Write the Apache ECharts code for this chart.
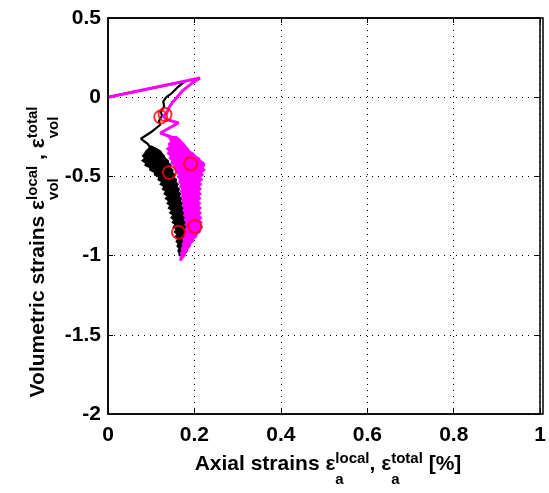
<!DOCTYPE html>
<html><head><meta charset="utf-8">
<script src="https://cdn.jsdelivr.net/npm/echarts/dist/echarts.min.js"></script>
<style>html,body{margin:0;padding:0;background:#fff}#c{width:549px;height:493px}</style>
</head><body><div id="c"></div>
<script>
// ---- data ----
const xTickValues = [0, 0.2, 0.4, 0.6, 0.8, 1];
const xTickLabels = ['0', '0.2', '0.4', '0.6', '0.8', '1'];
const yTickValues = [-2, -1.5, -1, -0.5, 0, 0.5];
const yTickLabels = ['-2', '-1.5', '-1', '-0.5', '0', '0.5'];

// local (black): path [axial %, volumetric %] before the noisy part
const localPath = [
  [0,0],[0.178,0.100],[0.160,0.060],[0.148,0.026],[0.135,0.0],[0.128,-0.026],[0.130,-0.060],
  [0.122,-0.090],[0.125,-0.117],[0.118,-0.150],[0.121,-0.174],[0.100,-0.220],[0.076,-0.262],
  [0.082,-0.275],[0.092,-0.295],[0.098,-0.320]
];
// local (black): noisy band [volumetric %, axial min %, axial max %]
const localBand = [
  [-0.310,0.097,0.101],[-0.325,0.094,0.112],[-0.340,0.088,0.121],[-0.355,0.085,0.125],
  [-0.370,0.080,0.130],[-0.385,0.085,0.132],[-0.400,0.079,0.139],[-0.415,0.087,0.140],
  [-0.430,0.086,0.146],[-0.445,0.097,0.143],[-0.460,0.097,0.150],[-0.475,0.108,0.149],
  [-0.490,0.108,0.155],[-0.505,0.118,0.152],[-0.520,0.116,0.158],[-0.535,0.125,0.157],
  [-0.550,0.121,0.162],[-0.565,0.130,0.159],[-0.580,0.126,0.165],[-0.595,0.134,0.162],
  [-0.610,0.130,0.168],[-0.625,0.138,0.164],[-0.640,0.133,0.170],[-0.655,0.141,0.166],
  [-0.670,0.137,0.172],[-0.685,0.144,0.168],[-0.700,0.140,0.174],[-0.715,0.148,0.170],
  [-0.730,0.143,0.176],[-0.745,0.151,0.172],[-0.760,0.146,0.177],[-0.775,0.153,0.173],
  [-0.790,0.149,0.179],[-0.805,0.156,0.175],[-0.820,0.151,0.180],[-0.835,0.158,0.176],
  [-0.850,0.154,0.180],[-0.865,0.160,0.175],[-0.880,0.156,0.177],[-0.895,0.162,0.173],
  [-0.910,0.158,0.175],[-0.925,0.163,0.171],[-0.940,0.160,0.172],[-0.955,0.165,0.169],
  [-0.970,0.162,0.170],[-0.985,0.165,0.168],[-1.000,0.165,0.167]
];
// total (magenta): path before the noisy part
const totalPath = [
  [0,0],[0.213,0.121],[0.195,0.090],[0.171,0.037],[0.160,0.0],[0.148,-0.037],[0.140,-0.070],
  [0.136,-0.100],[0.128,-0.120],[0.135,-0.140],[0.163,-0.163],[0.145,-0.190],[0.121,-0.226],
  [0.140,-0.245],[0.150,-0.255]
];
// total (magenta): noisy band
const totalBand = [
  [-0.250,0.140,0.158],[-0.265,0.143,0.166],[-0.280,0.146,0.170],[-0.295,0.140,0.176],
  [-0.310,0.143,0.180],[-0.325,0.136,0.185],[-0.340,0.142,0.189],[-0.355,0.138,0.197],
  [-0.370,0.145,0.202],[-0.385,0.142,0.211],[-0.400,0.149,0.214],[-0.415,0.146,0.222],
  [-0.430,0.153,0.223],[-0.445,0.153,0.219],[-0.460,0.159,0.224],[-0.475,0.158,0.216],
  [-0.490,0.164,0.220],[-0.505,0.161,0.213],[-0.520,0.167,0.218],[-0.535,0.164,0.211],
  [-0.550,0.169,0.216],[-0.565,0.166,0.210],[-0.580,0.171,0.215],[-0.595,0.168,0.209],
  [-0.610,0.173,0.215],[-0.625,0.170,0.209],[-0.640,0.174,0.214],[-0.655,0.171,0.208],
  [-0.670,0.176,0.214],[-0.685,0.173,0.209],[-0.700,0.177,0.215],[-0.715,0.174,0.209],
  [-0.730,0.179,0.215],[-0.745,0.176,0.210],[-0.760,0.180,0.216],[-0.775,0.177,0.211],
  [-0.790,0.182,0.217],[-0.805,0.179,0.213],[-0.820,0.183,0.218],[-0.835,0.180,0.212],
  [-0.850,0.182,0.213],[-0.865,0.177,0.206],[-0.880,0.179,0.205],[-0.895,0.174,0.198],
  [-0.910,0.176,0.197],[-0.925,0.172,0.191],[-0.940,0.174,0.190],[-0.955,0.170,0.185],
  [-0.970,0.172,0.184],[-0.985,0.168,0.179],[-1.000,0.170,0.178],[-1.015,0.167,0.173],
  [-1.030,0.167,0.169]
];
// red circle markers
const markerPoints = [
  [0.122,-0.125],[0.132,-0.110],[0.142,-0.475],[0.191,-0.420],[0.163,-0.853],[0.201,-0.816]
];

// ---- chart ----
const FONT = '"Liberation Sans", Arial, Helvetica, sans-serif';
const chart = echarts.init(document.getElementById('c'), null, {renderer: 'canvas'});

const GRID = {left: 108, right: 6, top: 18, bottom: 79};
const W = 549, H = 493;

function axisCommon() {
  return {
    axisLine: {show: true, onZero: false, lineStyle: {color: '#000', width: 1.5}},
    axisTick: {show: true, inside: true, length: 5, lineStyle: {color: '#000'}},
    splitLine: {show: false}
  };
}

const mctx = document.createElement('canvas').getContext('2d');
function tw(text, size) { mctx.font = 'bold ' + size + 'px ' + FONT; return mctx.measureText(text).width; }

const MAIN = 21, SUP = 15;
function buildTitle(pieces, supOff, subOff) {
  let items = [], x = 0;
  pieces.forEach(p => {
    if (p.t !== undefined) {
      items.push({text: p.t, x: x, y: 0, size: MAIN});
      x += tw(p.t, MAIN);
    } else {
      items.push({text: p.sup, x: x, y: supOff, size: SUP});
      items.push({text: p.sub, x: x, y: subOff, size: SUP});
      x += Math.max(tw(p.sup, SUP), tw(p.sub, SUP));
    }
  });
  const total = x;
  return items.map(it => ({
    type: 'text',
    style: {
      text: it.text, x: it.x - total / 2, y: it.y - it.size * 0.33,
      font: 'bold ' + it.size + 'px ' + FONT, fill: '#000',
      align: 'left', verticalAlign: 'middle'
    }
  }));
}

const xTitle = buildTitle([
  {t: 'Axial strains ε'}, {sup: 'local', sub: 'a'}, {t: ', ε'}, {sup: 'total', sub: 'a'}, {t: ' [%]'}
], -7, 14);
const yTitle = buildTitle([
  {t: 'Volumetric strains ε'}, {sup: 'local', sub: 'vol'}, {t: ' , ε'}, {sup: 'total', sub: 'vol'}
], -7, 14);

function bandSeries(band, color, z) {
  return {
    type: 'custom', coordinateSystem: 'cartesian2d', z: z, silent: true,
    data: band.map(b => [b[1], b[0], b[2]]),
    encode: {x: [0, 2], y: 1},
    renderItem: function (params, api) {
      if (params.dataIndex !== 0) return null;
      const pts = [];
      band.forEach(b => pts.push(api.coord([b[1], b[0]])));
      for (let i = band.length - 1; i >= 0; i--) pts.push(api.coord([band[i][2], band[i][0]]));
      return {
        type: 'polygon', shape: {points: pts},
        style: {fill: color, stroke: color, lineWidth: 1.5}
      };
    }
  };
}

const option = {
  animation: false,
  backgroundColor: '#fff',
  grid: Object.assign({show: false}, GRID),
  xAxis: [
    Object.assign(axisCommon(), {
      type: 'value', min: 0, max: 1, interval: 0.2, position: 'bottom',
      axisLabel: {
        color: '#000', fontFamily: FONT, fontWeight: 'bold', fontSize: 21, margin: 11,
        formatter: v => { const i = xTickValues.findIndex(t => Math.abs(t - v) < 1e-9); return i >= 0 ? xTickLabels[i] : ''; }
      },
      splitLine: {show: true, lineStyle: {color: '#000', type: [1, 5], width: 1}}
    }),
    Object.assign(axisCommon(), {
      type: 'value', min: 0, max: 1, interval: 0.2, position: 'top', axisLabel: {show: false}
    })
  ],
  yAxis: [
    Object.assign(axisCommon(), {
      type: 'value', min: -2, max: 0.5, interval: 0.5, position: 'left',
      axisLabel: {
        color: '#000', fontFamily: FONT, fontWeight: 'bold', fontSize: 21, margin: 7,
        formatter: v => { const i = yTickValues.findIndex(t => Math.abs(t - v) < 1e-9); return i >= 0 ? yTickLabels[i] : ''; }
      },
      splitLine: {show: true, lineStyle: {color: '#000', type: [1, 5], width: 1}}
    }),
    Object.assign(axisCommon(), {
      type: 'value', min: -2, max: 0.5, interval: 0.5, position: 'right', axisLabel: {show: false}
    })
  ],
  series: [
    {
      name: 'local', type: 'line', data: localPath, showSymbol: false, symbol: 'none',
      lineStyle: {color: '#000', width: 2.2}, z: 3
    },
    bandSeries(localBand, '#000', 3),
    {
      name: 'total', type: 'line', data: totalPath, showSymbol: false, symbol: 'none',
      lineStyle: {color: '#ff00ff', width: 3}, z: 4
    },
    bandSeries(totalBand, '#ff00ff', 4),
    {
      name: 'markers', type: 'scatter', data: markerPoints, symbol: 'circle', symbolSize: 13,
      itemStyle: {color: 'rgba(0,0,0,0)', borderColor: '#ff0000', borderWidth: 2}, z: 5
    }
  ],
  graphic: [
    {
      type: 'rect', silent: true, z: 10,
      shape: {x: GRID.left, y: GRID.top, width: W - GRID.left - GRID.right, height: H - GRID.top - GRID.bottom},
      style: {fill: null, stroke: '#000', lineWidth: 1.5}
    },
    {type: 'group', x: 328, y: 471, children: xTitle},
    {type: 'group', x: 45, y: 252, rotation: Math.PI / 2, children: yTitle}
  ]
};
chart.setOption(option);
</script>
</body></html>
